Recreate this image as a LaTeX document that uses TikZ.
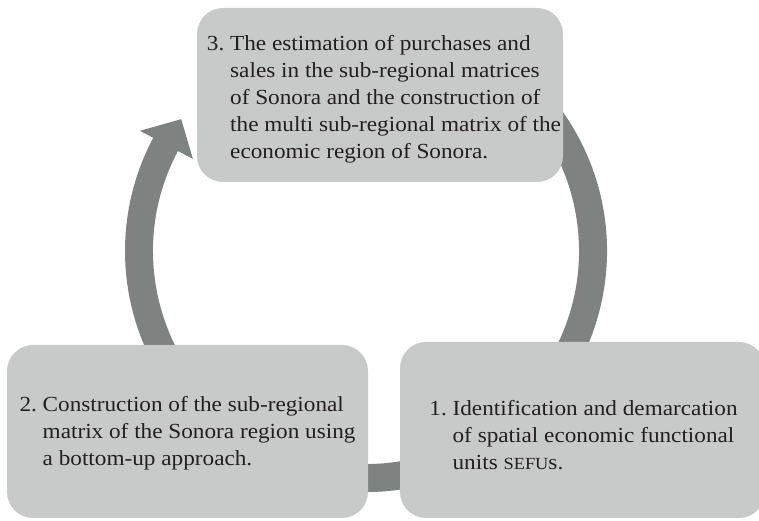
\documentclass[tikz,border=0pt]{standalone}
\usepackage{fontspec}
\setmainfont[FakeStretch=1.08]{Liberation Serif}
\usetikzlibrary{calc}
\definecolor{boxgray}{RGB}{200,202,201}
\definecolor{ringgray}{RGB}{126,130,129}
\definecolor{txtgray}{RGB}{35,31,32}
\tikzset{
  stagebox/.style={fill=boxgray, rounded corners=26pt, inner sep=0pt},
  stagetext/.style={text=txtgray, inner sep=0pt, font=\fontsize{21.5}{27}\selectfont},
}
\begin{document}
\begin{tikzpicture}[x=1pt,y=1pt]
\useasboundingbox (0,0) rectangle (759,521);
\coordinate (ctr) at (366,270);
% circular arrow behind the boxes
\fill[ringgray] ($(ctr)+(120:241)$) arc[start angle=120,end angle=-208,radius=241]
  -- ($(ctr)+(-208:256)$) -- ($(ctr)+(-215.5:227)$) -- ($(ctr)+(-208:196)$)
  -- ($(ctr)+(-208:213)$) arc[start angle=-208,end angle=120,radius=213] -- cycle;
% stages
\node[stagebox, minimum width=366pt, minimum height=174pt] (s3) at (380,426) {};
\node[stagebox, minimum width=361pt, minimum height=173pt] (s2) at (187.5,89.5) {};
\node[stagebox, minimum width=365pt, minimum height=176pt] (s1) at (582.5,91) {};
\node[stagetext] (t3) at ([xshift=4pt,yshift=-4pt]s3.center) {\begin{tabular}{@{}l@{\ }l@{}}
3. & The estimation of purchases and\\
   & sales in the sub-regional matrices\\
   & of Sonora and the construction of\\
   & the multi sub-regional matrix of the\\
   & economic region of Sonora.
\end{tabular}};
\node[stagetext] (t2) at ([yshift=-2pt]s2.center) {\begin{tabular}{@{}l@{\ }l@{}}
2. & Construction of the sub-regional\\
   & matrix of the Sonora region using\\
   & a bottom-up approach.
\end{tabular}};
\node[stagetext] (t1) at ([xshift=1pt,yshift=-7pt]s1.center) {\begin{tabular}{@{}l@{\ }l@{}}
1. & Identification and demarcation\\
   & of spatial economic functional\\
   & units {\fontsize{17}{27}\selectfont SEFU}s.
\end{tabular}};
\end{tikzpicture}
\end{document}
